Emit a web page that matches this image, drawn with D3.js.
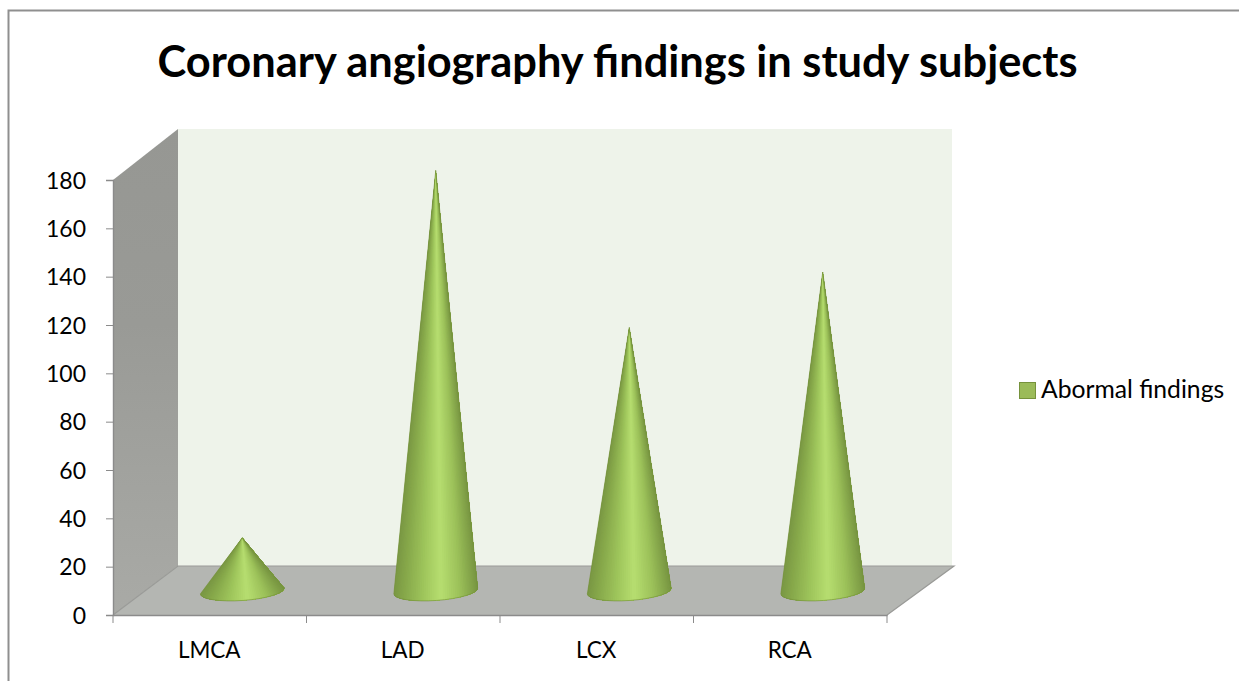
<!DOCTYPE html>
<html>
<head>
<meta charset="utf-8">
<script src="https://cdn.jsdelivr.net/npm/d3@7"></script>
<style>
    html, body { margin: 0; padding: 0; background: #fff; overflow: hidden; }
    text { font-family: Lato, "Noto Sans", sans-serif; fill: #000; }
</style>
</head>
<body>
<div id="chart"></div>
<script>
const categories = ["LMCA", "LAD", "LCX", "RCA"];
const values = [22, 174, 109, 132];
const yTicks = [0, 20, 40, 60, 80, 100, 120, 140, 160, 180];
const seriesName = "Abormal findings";
const chartTitle = "Coronary angiography findings in study subjects";

const width = 1239, height = 681;
const axisLeft = 113, axisRight = 887, axisBottom = 615, axisTop = 180;
const depthX = 65, depthY = 49; // offset of the back wall from the front edge

const svg = d3.select("#chart").append("svg")
    .attr("width", width)
    .attr("height", height)
    .style("display", "block");

const x = d3.scaleBand().domain(categories).range([axisLeft, axisRight]);
const y = d3.scaleLinear().domain([0, 180]).range([axisBottom, axisTop]);

const defs = svg.append("defs");
const wallGrad = defs.append("linearGradient")
    .attr("id", "wall-grad")
    .attr("x1", "0%").attr("x2", "0%").attr("y1", "100%").attr("y2", "0%");
wallGrad.append("stop").attr("offset", 0).attr("stop-color", "#a9aaa6");
wallGrad.append("stop").attr("offset", 0.6).attr("stop-color", "#999a96");
wallGrad.append("stop").attr("offset", 1).attr("stop-color", "#969793");

// frame, runs off the right and bottom of the picture
svg.append("path")
    .attr("d", `M8.5,${height}V10.5H${width}`)
    .attr("fill", "none")
    .attr("stroke", "#8f8f8f")
    .attr("stroke-width", 2);

svg.append("text")
    .attr("x", 617.5)
    .attr("y", 77)
    .attr("text-anchor", "middle")
    .attr("style", "font-size: 43.4px; font-weight: bold;")
    .text(chartTitle);

// back wall
svg.append("rect")
    .attr("x", axisLeft + depthX)
    .attr("y", axisTop - depthY - 2)
    .attr("width", axisRight - axisLeft)
    .attr("height", axisBottom - axisTop + 2)
    .attr("fill", "#eef3ea");

// side wall
svg.append("path")
    .attr("d", `M${axisLeft},${axisTop}L${axisLeft + depthX},${axisTop - depthY - 2}V${axisBottom - depthY}L${axisLeft},${axisBottom}Z`)
    .attr("fill", "url(#wall-grad)");

// floor
svg.append("path")
    .attr("d", `M${axisLeft},${axisBottom}L${axisLeft + depthX},${axisBottom - depthY}H${axisRight + depthX + 2}L${axisRight},${axisBottom}Z`)
    .attr("fill", "#b4b6b2");
svg.append("path")
    .attr("d", `M${axisLeft},${axisBottom}L${axisLeft + depthX},${axisBottom - depthY}H${axisRight + depthX + 2}L${axisRight},${axisBottom}`)
    .attr("fill", "none")
    .attr("stroke", "#999a97")
    .attr("stroke-width", 1.2);

// axes
const yAxis = svg.append("g")
    .attr("transform", `translate(${axisLeft},0)`)
    .call(d3.axisLeft(y).tickValues(yTicks).tickSize(7).tickPadding(20));
const xAxis = svg.append("g")
    .attr("transform", `translate(0,${axisBottom})`)
    .call(d3.axisBottom(x).tickSize(0).tickFormat(""));
xAxis.selectAll(".tick").remove();
xAxis.selectAll(".x-tick")
    .data(categories.concat(["end"]))
    .enter().append("line")
    .attr("class", "x-tick")
    .attr("x1", (d, i) => axisLeft + i * x.bandwidth())
    .attr("x2", (d, i) => axisLeft + i * x.bandwidth())
    .attr("y1", 0)
    .attr("y2", 8)
    .attr("stroke", "#8b8b8b");
svg.selectAll(".domain").attr("stroke", "#8b8b8b").attr("stroke-width", 1.4);
yAxis.selectAll("line").attr("stroke", "#8b8b8b");
yAxis.selectAll("text").attr("style", "font-size: 23px;").attr("dy", "0.35em");

svg.selectAll(".x-label")
    .data(categories)
    .enter().append("text")
    .attr("class", "x-label")
    .attr("x", d => x(d) + x.bandwidth() / 2 - 0.5)
    .attr("y", 657.5)
    .attr("text-anchor", "middle")
    .attr("style", "font-size: 22.5px;")
    .text(d => d);

// cones, shaded as a fan from the apex round the front of the base
const baseY = d3.scaleLinear().domain([0, 180]).range([axisBottom - depthY / 2 + 0.5, axisTop - depthY / 2 + 0.5]);
const rx = 42, ry = 9.5, tilt = -4;
const tiltRad = tilt * Math.PI / 180;
const shade = d3.scaleLinear()
    .domain([0, 0.12, 0.35, 0.56, 0.78, 1])
    .range(["#7a9844", "#86a74a", "#9ec55b", "#b6de70", "#9dc25a", "#789642"]);
const fanSteps = d3.range(0, 60);

function basePoint(t) {
    // t runs 0..1 from the left end of the base to the right end, along the front edge
    const a = Math.PI - t * Math.PI;
    const ex = rx * Math.cos(a), ey = ry * Math.sin(a);
    return [ex * Math.cos(tiltRad) - ey * Math.sin(tiltRad), ex * Math.sin(tiltRad) + ey * Math.cos(tiltRad)];
}

const cones = svg.selectAll(".cone")
    .data(categories.map((c, i) => ({ name: c, value: values[i] })))
    .enter().append("g")
    .attr("class", "cone")
    .attr("transform", d => `translate(${x(d.name) + x.bandwidth() / 2 + depthX / 2},${baseY(0)})`);

// each slice covers everything to its right, so the next one paints over it with no seams
cones.selectAll(".slice")
    .data(d => fanSteps.map(s => ({ s: s, top: baseY(d.value) - baseY(0) })))
    .enter().append("path")
    .attr("class", "slice")
    .attr("d", d => {
        const pts = d3.range(d.s, fanSteps.length + 1).map(k => basePoint(k / fanSteps.length));
        return `M0,${d.top}L` + pts.map(p => p.join(",")).join("L") + "Z";
    })
    .attr("fill", d => shade(basePoint((d.s + 0.5) / fanSteps.length)[0] / (2 * rx) + 0.5));

cones.append("path")
    .attr("d", d => {
        const l = basePoint(0), r = basePoint(1);
        return `M0,${baseY(d.value) - baseY(0)}L${r[0]},${r[1]}A${rx},${ry} ${tilt} 0 1 ${l[0]},${l[1]}Z`;
    })
    .attr("fill", "none")
    .attr("stroke", "#76923c")
    .attr("stroke-opacity", 0.75)
    .attr("stroke-width", 0.9);

// legend
svg.append("rect")
    .attr("x", 1019.5)
    .attr("y", 382.5)
    .attr("width", 16)
    .attr("height", 16)
    .attr("fill", "#9bbb59")
    .attr("stroke", "#76923c");
svg.append("text")
    .attr("x", 1041)
    .attr("y", 398)
    .attr("style", "font-size: 24.7px;")
    .text(seriesName);
</script>
</body>
</html>
